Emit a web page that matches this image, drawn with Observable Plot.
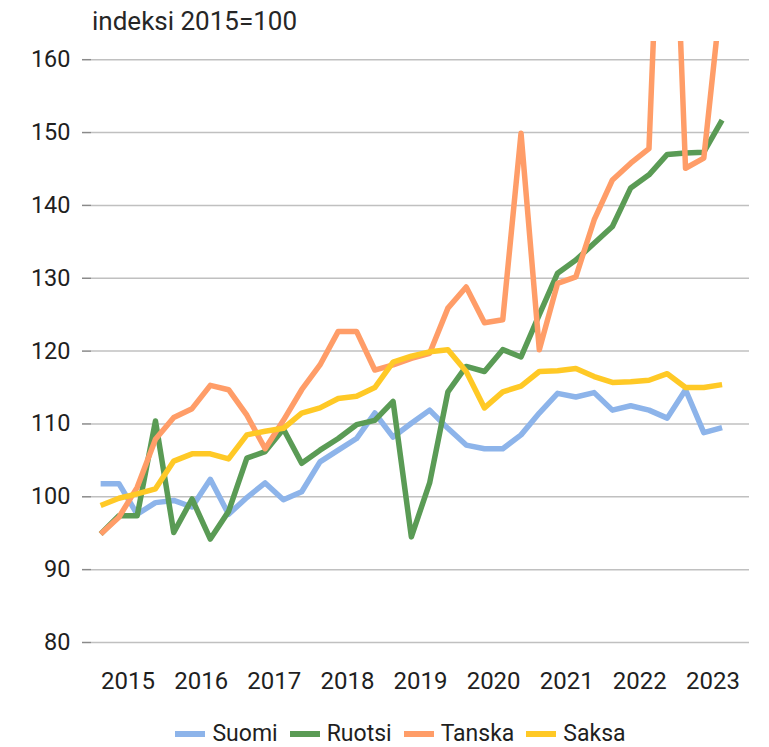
<!DOCTYPE html>
<html><head><meta charset="utf-8">
<script src="https://cdn.jsdelivr.net/npm/d3@7"></script>
<script src="https://cdn.jsdelivr.net/npm/@observablehq/plot@0.6"></script>
<style>
body{margin:0;background:#fff;font-family:Roboto,"Noto Sans",sans-serif;color:#1f1f1f;}
#wrap{position:relative;width:769px;height:747px;overflow:hidden;}
#chart{position:absolute;left:0;top:0;}
#title{position:absolute;left:92px;top:6px;font-size:26px;line-height:30px;color:#262626;white-space:nowrap;}
#legend{position:absolute;left:0;top:723px;width:769px;box-sizing:border-box;padding-left:32px;display:flex;justify-content:center;align-items:center;font-size:23px;line-height:22px;color:#1f1f1f;}
.item{display:flex;align-items:center;margin:0 6px;}
.sw{width:30px;height:6px;margin-right:7px;}
</style>
</head><body>
<div id="wrap">
<div id="chart"></div>
<div id="title">indeksi 2015=100</div>
<div id="legend"></div>
</div>
<script>
const periods = ["2015Q1","2015Q2","2015Q3","2015Q4","2016Q1","2016Q2","2016Q3","2016Q4",
"2017Q1","2017Q2","2017Q3","2017Q4","2018Q1","2018Q2","2018Q3","2018Q4",
"2019Q1","2019Q2","2019Q3","2019Q4","2020Q1","2020Q2","2020Q3","2020Q4",
"2021Q1","2021Q2","2021Q3","2021Q4","2022Q1","2022Q2","2022Q3","2022Q4",
"2023Q1","2023Q2","2023Q3","2023Q4"];
const years = ["2015","2016","2017","2018","2019","2020","2021","2022","2023"];
const yTicks = [80,90,100,110,120,130,140,150,160];
const seriesNames = ["Suomi","Ruotsi","Tanska","Saksa"];
const colors = ["#8db4ea","#5a9b55","#ff9d68","#ffc926"];

const suomi  = [101.8,101.8,97.6,99.2,99.5,98.6,102.4,97.6,99.9,101.9,99.6,100.7,104.8,106.4,108.0,111.5,108.2,110.1,111.9,109.4,107.1,106.6,106.6,108.5,111.5,114.2,113.7,114.3,111.9,112.5,111.9,110.8,114.7,108.8,109.5];
const ruotsi = [94.9,97.4,97.4,110.4,95.1,99.7,94.2,98.0,105.3,106.2,109.3,104.6,106.4,108.0,109.9,110.5,113.1,94.5,101.9,114.4,117.9,117.2,120.2,119.2,125.0,130.7,132.5,134.8,137.1,142.4,144.2,147.0,147.2,147.3,151.7];
const tanska = [94.9,97.2,101.3,107.9,110.9,112.1,115.3,114.7,111.2,106.6,110.5,114.7,118.1,122.7,122.7,117.4,118.1,119.0,119.7,125.9,128.8,123.9,124.3,149.9,120.2,129.3,130.2,138.0,143.5,145.8,147.8,210.0,145.1,146.5,170.0];
const saksa  = [98.8,99.8,100.4,101.1,104.9,105.9,105.9,105.2,108.5,109.0,109.4,111.5,112.2,113.5,113.8,115.0,118.5,119.3,119.9,120.2,117.2,112.2,114.4,115.2,117.2,117.3,117.6,116.5,115.7,115.8,116.0,116.9,115.0,115.0,115.4];

const seriesValues = [suomi, ruotsi, tanska, saksa];
const data = [];
seriesValues.forEach((vals, s) => vals.forEach((v, i) => data.push({name: seriesNames[s], i, period: periods[i], value: v})));

const chart = Plot.plot({
  width: 769,
  height: 705,
  marginLeft: 91,
  marginRight: 20,
  marginTop: 41,
  marginBottom: 63,
  style: {fontFamily: 'Roboto, "Noto Sans", sans-serif', fontSize: "24px", color: "#1f1f1f", background: "white"},
  x: {domain: [-0.5, periods.length - 0.5]},
  y: {domain: [80, 162.5]},
  color: {domain: seriesNames, range: colors},
  marks: [
    Plot.ruleY(yTicks, {x1: -0.5, x2: periods.length - 0.5, stroke: "#c0c0c0", strokeWidth: 1.5}),
    Plot.axisY(yTicks, {tickSize: 9, tickPadding: 12, stroke: "#8a8a8a", strokeWidth: 1.5, label: null, fontSize: 23.5, tickFormat: d => String(d)}),
    Plot.axisX(years.map((y, k) => k * 4 + 1.5), {tickSize: 0, tickPadding: 29, tickFormat: d => years[(d - 1.5) / 4], label: null, fontSize: 24}),
    Plot.line(data, {x: "i", y: "value", z: "name", stroke: "name", strokeWidth: 5.5, strokeLinejoin: "round", strokeLinecap: "butt", clip: true})
  ]
});
document.getElementById("chart").appendChild(chart);

const legend = document.getElementById("legend");
seriesNames.forEach((n, k) => {
  const it = document.createElement("div"); it.className = "item";
  const sw = document.createElement("div"); sw.className = "sw"; sw.style.background = colors[k];
  const t = document.createElement("span"); t.textContent = n;
  it.appendChild(sw); it.appendChild(t); legend.appendChild(it);
});
</script>
</body></html>
